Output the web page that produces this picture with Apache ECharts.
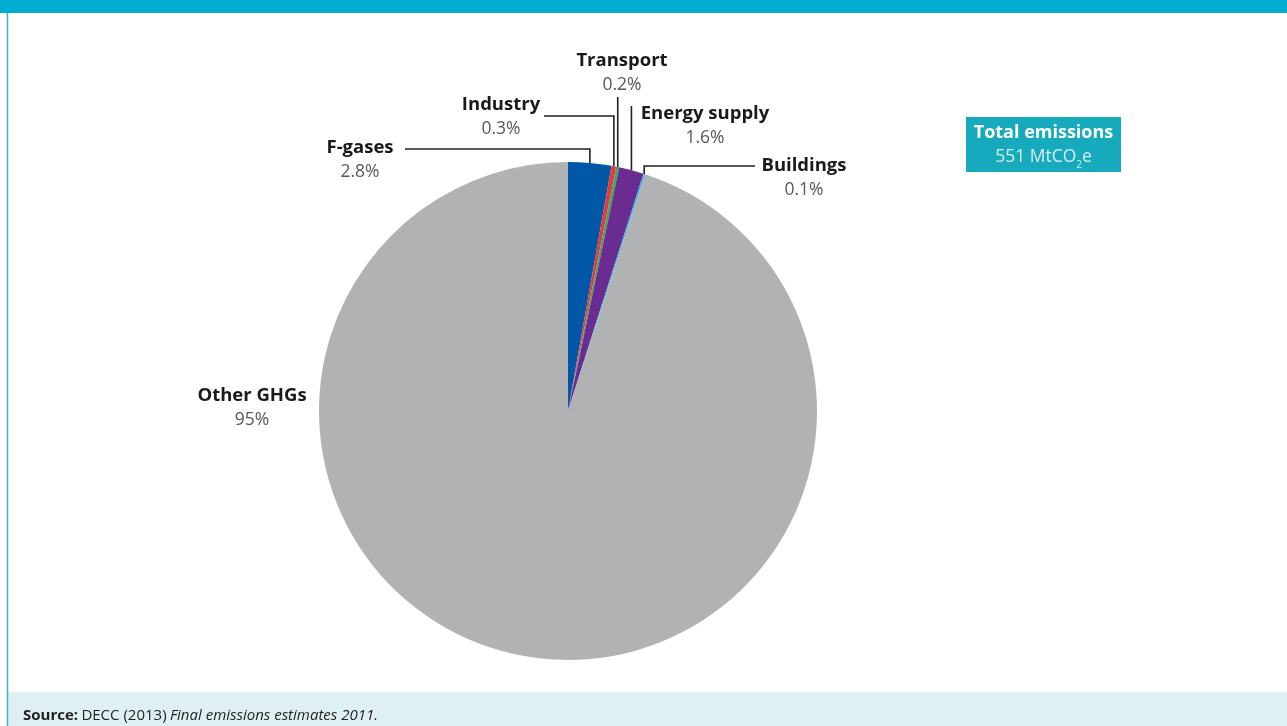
<!DOCTYPE html>
<html>
<head>
<meta charset="utf-8">
<title>Non-CO2 emissions</title>
<script src="https://cdn.jsdelivr.net/npm/echarts@6/dist/echarts.min.js"></script>
<style>
  html, body { margin: 0; padding: 0; background: #ffffff; }
  #chart { width: 1287px; height: 726px; }
</style>
</head>
<body>
<div id="chart"></div>
<script>
// Share of total emissions by source (percent)
const categories = ['F-gases', 'Industry', 'Transport', 'Energy supply', 'Buildings', 'Other GHGs'];
const shares = [2.8, 0.3, 0.2, 1.6, 0.1, 95];
const sliceColors = ['#0057a6', '#e8363f', '#3aaa5a', '#6b2c91', '#1db4e2', '#b1b2b4'];
const totalEmissions = 551;
const sourceNote = ['Source:', 'DECC (2013)', 'Final emissions estimates 2011.'];

// Where each label sits and how its leader line bends (pixels)
const labelSpots = {
  'F-gases':       { x: 360, y: 160, lineY: 149, lineX: 405 },
  'Industry':      { x: 501, y: 117, lineY: 116, lineX: 544 },
  'Transport':     { x: 622, y: 73,  lineY: 97 },
  'Energy supply': { x: 705, y: 126, lineY: 106 },
  'Buildings':     { x: 804, y: 178, lineY: 166, lineX: 755 },
  'Other GHGs':    { x: 252, y: 408 }
};

const FONT = '"Open Sans", "Noto Sans", sans-serif';
const chart = echarts.init(document.getElementById('chart'), null, { renderer: 'canvas' });

const pieData = categories.map((name, i) => {
  const item = { name: name, value: shares[i], itemStyle: { color: sliceColors[i] } };
  if (labelSpots[name].lineY == null) item.labelLine = { show: false };
  return item;
});

chart.setOption({
  animation: false,
  backgroundColor: '#ffffff',
  graphic: [
    // header strip
    { type: 'rect', left: 0, top: 0, shape: { width: 1287, height: 13 }, style: { fill: '#00acd0' }, silent: true },
    // footer panel
    { type: 'rect', left: 8, top: 692, shape: { width: 1279, height: 34 }, style: { fill: '#dff0f5' }, silent: true },
    // left frame line
    { type: 'line', shape: { x1: 7.5, y1: 13, x2: 7.5, y2: 726 }, style: { stroke: '#3ab6d2', lineWidth: 1.5 }, silent: true },
    // total emissions box
    {
      type: 'group', left: 966, top: 117, silent: true,
      children: [
        { type: 'rect', shape: { width: 155, height: 55 }, style: { fill: '#17a9bc' } },
        {
          type: 'text', x: 77.5, y: 28,
          style: {
            text: '{t|Total emissions}\n{v|' + totalEmissions + ' MtCO}{s|2}{v|e}',
            align: 'center', verticalAlign: 'middle',
            rich: {
              t: { fontFamily: FONT, fontWeight: 'bold', fontSize: 18, fill: '#ffffff', lineHeight: 25, align: 'center' },
              v: { fontFamily: FONT, fontSize: 17.5, fill: '#d3f1f5', lineHeight: 25 },
              s: { fontFamily: FONT, fontSize: 10, fill: '#d3f1f5', lineHeight: 25, verticalAlign: 'bottom' }
            }
          }
        }
      ]
    },
    // source note
    {
      type: 'text', left: 23, top: 708, silent: true,
      style: {
        text: '{b|' + sourceNote[0] + '} {r|' + sourceNote[1] + '} {i|' + sourceNote[2] + '}',
        rich: {
          b: { fontFamily: FONT, fontWeight: 'bold', fontSize: 15, fill: '#231f20' },
          r: { fontFamily: FONT, fontSize: 15, fill: '#231f20' },
          i: { fontFamily: FONT, fontStyle: 'italic', fontSize: 15, fill: '#231f20' }
        }
      }
    }
  ],
  series: [{
    type: 'pie',
    center: [568, 411],
    radius: 249,
    startAngle: 90,
    clockwise: true,
    avoidLabelOverlap: false,
    emphasis: { disabled: true },
    itemStyle: { borderWidth: 0 },
    label: {
      show: true,
      position: 'outside',
      align: 'center',
      formatter: '{n|{b}}\n{p|{c}%}',
      rich: {
        n: { fontFamily: FONT, fontWeight: 'bold', fontSize: 18.5, color: '#1a1a1a', lineHeight: 25, align: 'center' },
        p: { fontFamily: FONT, fontSize: 17.5, color: '#58595b', lineHeight: 25, align: 'center' }
      }
    },
    labelLine: {
      show: true, length: 10, length2: 10,
      lineStyle: { color: '#231f20', width: 1.6 }
    },
    labelLayout: function (p) {
      const spot = labelSpots[categories[p.dataIndex]];
      const out = { x: spot.x, y: spot.y, align: 'center', verticalAlign: 'middle' };
      if (spot.lineY != null && p.labelLinePoints) {
        const a = p.labelLinePoints[0];
        const endX = spot.lineX != null ? spot.lineX : a[0];
        out.labelLinePoints = [a, [a[0], spot.lineY], [endX, spot.lineY]];
      }
      return out;
    },
    data: pieData
  }]
});
</script>
</body>
</html>
